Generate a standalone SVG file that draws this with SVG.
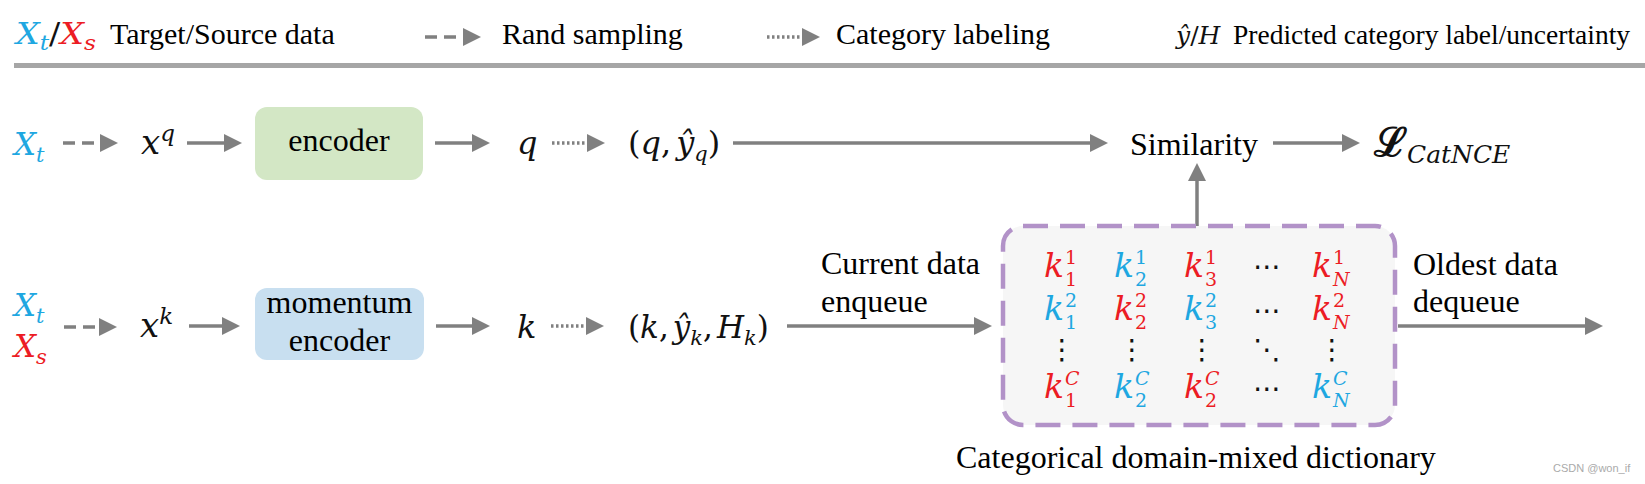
<svg xmlns="http://www.w3.org/2000/svg" width="1645" height="484" viewBox="0 0 1645 484">
<style>
.t{font-family:"Liberation Serif","Times New Roman",serif;fill:#000;}
.lg{font-size:30px;}
.bd{font-size:32px;}
.m{font-family:"DejaVu Serif",serif;font-style:italic;fill:#111;}
.up{font-style:normal;}
.blue{fill:#1ea7e1;}
.red{fill:#ec1c24;}
.ln{stroke:#808080;stroke-width:3.5;fill:none;}
.dash{stroke-dasharray:12 7;}
.dot{stroke-dasharray:2.5 2.5;}
.dots{font-family:"DejaVu Sans",sans-serif;font-size:28px;fill:#111;}
.k{font-size:33px;}
.s{font-size:19px;font-style:normal;}
.si{font-size:19px;}
</style>
<defs>
<marker id="ah" markerUnits="userSpaceOnUse" markerWidth="18" markerHeight="18" refX="6" refY="9" orient="auto">
<path d="M0,0 L18,9 L0,18 z" fill="#808080"/>
</marker>
</defs>
<rect width="1645" height="484" fill="#fff"/>

<g id="legend">
<text class="m" x="16" y="44" font-size="30" textLength="80" lengthAdjust="spacingAndGlyphs"><tspan class="blue">X</tspan><tspan class="blue" font-size="21" dy="6">t</tspan><tspan class="up" dy="-6">/</tspan><tspan class="red">X</tspan><tspan class="red" font-size="21" dy="6">s</tspan></text>
<text class="t lg" x="110" y="44">Target/Source data</text>
<text class="t lg" x="502" y="44">Rand sampling</text>
<text class="t lg" x="836" y="44">Category labeling</text>
<text class="m" x="1176" y="44" font-size="25">ŷ<tspan class="up">/</tspan>H</text>
<text class="t" x="1233" y="44" font-size="27.5">Predicted category label/uncertainty</text>
<rect x="14" y="63" width="1631" height="5" fill="#a6a6a6"/>
</g>

<g id="connectors">
<path class="ln dash" d="M425,37 H469" marker-end="url(#ah)"/>
<path class="ln dot" d="M767,37 H808" marker-end="url(#ah)"/>
<path class="ln dash" d="M63,143 H106" marker-end="url(#ah)"/>
<path class="ln" d="M187,143 H230" marker-end="url(#ah)"/>
<path class="ln" d="M435,143 H478" marker-end="url(#ah)"/>
<path class="ln dot" d="M552,143 H593" marker-end="url(#ah)"/>
<path class="ln" d="M733,143 H1096" marker-end="url(#ah)"/>
<path class="ln" d="M1273,143 H1348" marker-end="url(#ah)"/>
<path class="ln" d="M1197,226 V175" marker-end="url(#ah)"/>
<path class="ln dash" d="M64,327 H105" marker-end="url(#ah)"/>
<path class="ln" d="M189,326 H228" marker-end="url(#ah)"/>
<path class="ln" d="M436,326 H478" marker-end="url(#ah)"/>
<path class="ln dot" d="M551,326 H592" marker-end="url(#ah)"/>
<path class="ln" d="M787,326 H980" marker-end="url(#ah)"/>
<path class="ln" d="M1398,326 H1591" marker-end="url(#ah)"/>
</g>

<g id="Xt-top">
<text class="m blue" x="14" y="155" font-size="31">X<tspan font-size="21" dy="7">t</tspan></text>
</g>
<g id="xq">
<text class="m" x="141" y="154" font-size="34">x<tspan font-size="23" dy="-13">q</tspan></text>
</g>
<g id="encoder">
<rect x="255" y="107" width="168" height="73" rx="12" fill="#d3e7c5"/>
<text class="t bd" x="339" y="151" text-anchor="middle">encoder</text>
</g>
<g id="q">
<text class="m" x="517" y="154" font-size="32">q</text>
</g>
<g id="q-yq">
<text class="m" x="628" y="154" font-size="32"><tspan class="up">(</tspan>q<tspan class="up">,</tspan><tspan dx="5">ŷ</tspan><tspan font-size="21" dy="7">q</tspan><tspan class="up" dy="-7">)</tspan></text>
</g>
<g id="similarity">
<text class="t bd" x="1130" y="155">Similarity</text>
</g>
<g id="loss">
<text x="1374" y="156" font-family="DejaVu Serif, serif" font-size="40" font-weight="bold" fill="#111">ℒ<tspan class="m" font-weight="normal" font-size="25" dy="7">CatNCE</tspan></text>
</g>

<g id="Xts-bottom">
<text class="m blue" x="14" y="316" font-size="31">X<tspan font-size="21" dy="7">t</tspan></text>
<text class="m red" x="14" y="357" font-size="31">X<tspan font-size="21" dy="7">s</tspan></text>
</g>
<g id="xk">
<text class="m" x="140" y="337" font-size="34">x<tspan font-size="23" dy="-13">k</tspan></text>
</g>
<g id="momentum-encoder">
<rect x="255" y="288" width="169" height="72" rx="12" fill="#c8dff0"/>
<text class="t bd" x="339.5" y="313" text-anchor="middle">momentum</text>
<text class="t bd" x="339.5" y="351" text-anchor="middle">encoder</text>
</g>
<g id="k">
<text class="m" x="517" y="338" font-size="32">k</text>
</g>
<g id="k-yk-Hk">
<text class="m" x="628" y="338" font-size="31"><tspan class="up">(</tspan>k<tspan class="up">,</tspan><tspan dx="4">ŷ</tspan><tspan font-size="21" dy="7">k</tspan><tspan class="up" dy="-7">,</tspan><tspan dx="4">H</tspan><tspan font-size="21" dy="7">k</tspan><tspan class="up" dy="-7">)</tspan></text>
</g>
<g id="enqueue-label">
<text class="t bd" x="821" y="274">Current data</text>
<text class="t bd" x="821" y="312">enqueue</text>
</g>
<g id="dictionary">
<rect x="1003" y="226" width="392" height="199" rx="20" fill="#f6f6f6" stroke="#b292c8" stroke-width="4.5" stroke-dasharray="25 12"/>
<g class="m">
<text class="red k" x="1044" y="277">k</text><text class="red s" x="1065" y="264">1</text><text class="red s" x="1065" y="286">1</text>
<text class="blue k" x="1114" y="277">k</text><text class="blue s" x="1135" y="264">1</text><text class="blue s" x="1135" y="286">2</text>
<text class="red k" x="1184" y="277">k</text><text class="red s" x="1205" y="264">1</text><text class="red s" x="1205" y="286">3</text>
<text class="red k" x="1312" y="277">k</text><text class="red s" x="1333" y="264">1</text><text class="red si" x="1333" y="286">N</text>

<text class="blue k" x="1044" y="320">k</text><text class="blue s" x="1065" y="307">2</text><text class="blue s" x="1065" y="329">1</text>
<text class="red k" x="1114" y="320">k</text><text class="red s" x="1135" y="307">2</text><text class="red s" x="1135" y="329">2</text>
<text class="blue k" x="1184" y="320">k</text><text class="blue s" x="1205" y="307">2</text><text class="blue s" x="1205" y="329">3</text>
<text class="red k" x="1312" y="320">k</text><text class="red s" x="1333" y="307">2</text><text class="red si" x="1333" y="329">N</text>

<text class="red k" x="1044" y="398">k</text><text class="red si" x="1065" y="385">C</text><text class="red s" x="1065" y="407">1</text>
<text class="blue k" x="1114" y="398">k</text><text class="blue si" x="1135" y="385">C</text><text class="blue s" x="1135" y="407">2</text>
<text class="red k" x="1184" y="398">k</text><text class="red si" x="1205" y="385">C</text><text class="red s" x="1205" y="407">2</text>
<text class="blue k" x="1312" y="398">k</text><text class="blue si" x="1333" y="385">C</text><text class="blue si" x="1333" y="407">N</text>
</g>
<text class="dots" x="1267" y="276" text-anchor="middle">⋯</text>
<text class="dots" x="1267" y="320" text-anchor="middle">⋯</text>
<text class="dots" x="1267" y="398" text-anchor="middle">⋯</text>
<text class="dots" x="1062" y="359" text-anchor="middle">⋮</text>
<text class="dots" x="1132" y="359" text-anchor="middle">⋮</text>
<text class="dots" x="1202" y="359" text-anchor="middle">⋮</text>
<text class="dots" x="1267" y="359" text-anchor="middle">⋱</text>
<text class="dots" x="1332" y="359" text-anchor="middle">⋮</text>
</g>
<g id="dequeue-label">
<text class="t bd" x="1413" y="275">Oldest data</text>
<text class="t bd" x="1413" y="312">dequeue</text>
</g>
<g id="dictionary-caption">
<text class="t bd" x="956" y="468">Categorical domain-mixed dictionary</text>
</g>
<g id="watermark">
<text x="1553" y="472" font-family="Liberation Sans, Arial, sans-serif" font-size="11" fill="#aaa">CSDN @won_if</text>
</g>
</svg>
